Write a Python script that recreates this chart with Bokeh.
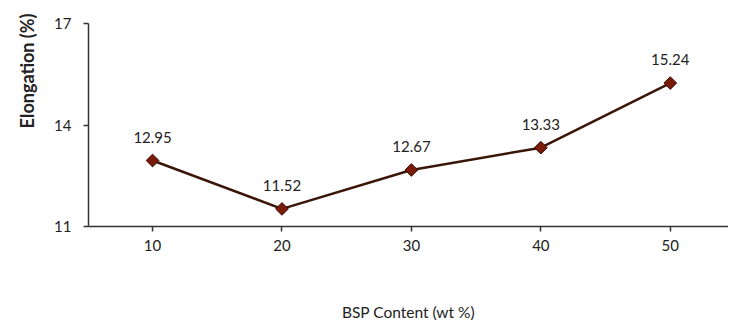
import math
from bokeh.plotting import figure
from bokeh.models import FixedTicker, Range1d, ColumnDataSource, Title
from bokeh.core.properties import value
from bokeh.embed import file_html
from bokeh.resources import INLINE

bsp_content = [10, 20, 30, 40, 50]
elongation = [12.95, 11.52, 12.67, 13.33, 15.24]
labels = ["12.95", "11.52", "12.67", "13.33", "15.24"]
y_ticks = [11, 14, 17]

src = ColumnDataSource(dict(x=bsp_content, y=elongation, t=labels))

FONT = "Lato"
p = figure(width=728, height=319, output_backend="svg", toolbar_location=None,
           x_range=Range1d(5.05, 54.5), y_range=Range1d(11, 17),
           frame_width=640, frame_height=203,
           min_border_left=88, min_border_right=0, min_border_top=23, min_border_bottom=93)
p.outline_line_color = None
p.xgrid.visible = False
p.ygrid.visible = False
p.background_fill_color = "white"
p.border_fill_color = "white"

p.line("x", "y", source=src, line_color="#3a1608", line_width=2.5)
p.scatter("x", "y", source=src, marker="square", angle=math.pi / 4, size=9,
          fill_color="#7a1a08", line_color="#3a0e04", line_width=1)
p.text("x", "y", text="t", source=src, text_align="center", text_baseline="bottom",
       y_offset=-18, text_font_size="15px", text_color="#222222", text_font=value(FONT))

p.xaxis.ticker = FixedTicker(ticks=bsp_content)
p.yaxis.ticker = FixedTicker(ticks=y_ticks)
for ax in (p.xaxis[0], p.yaxis[0]):
    ax.axis_line_color = "#333333"
    ax.axis_line_width = 1.5
    ax.major_tick_line_color = "#333333"
    ax.major_tick_line_width = 1.5
    ax.major_tick_in = 0
    ax.major_tick_out = 5
    ax.minor_tick_line_color = None
    ax.major_label_text_font = FONT
    ax.major_label_text_font_size = "15px"
    ax.major_label_text_color = "#222222"
    ax.axis_label_text_font = FONT
    ax.axis_label_text_color = "#222222"

p.xaxis.axis_label = "BSP Content (wt %)"
p.xaxis.axis_label_text_font_style = "normal"
p.xaxis.axis_label_text_font_size = "15.5px"
p.xaxis.major_label_standoff = 8
p.xaxis.axis_label_standoff = 49

p.yaxis.major_label_standoff = 12
p.yaxis.axis_label_standoff = 0

ytitle = Title(text="Elongation (%)", align="right", vertical_align="top", text_font=FONT,
               text_font_style="bold", text_font_size="18px", text_color="#222222",
               standoff=23, offset=-10)
p.add_layout(ytitle, "left")

open("out.html", "w").write(file_html(p, INLINE))
